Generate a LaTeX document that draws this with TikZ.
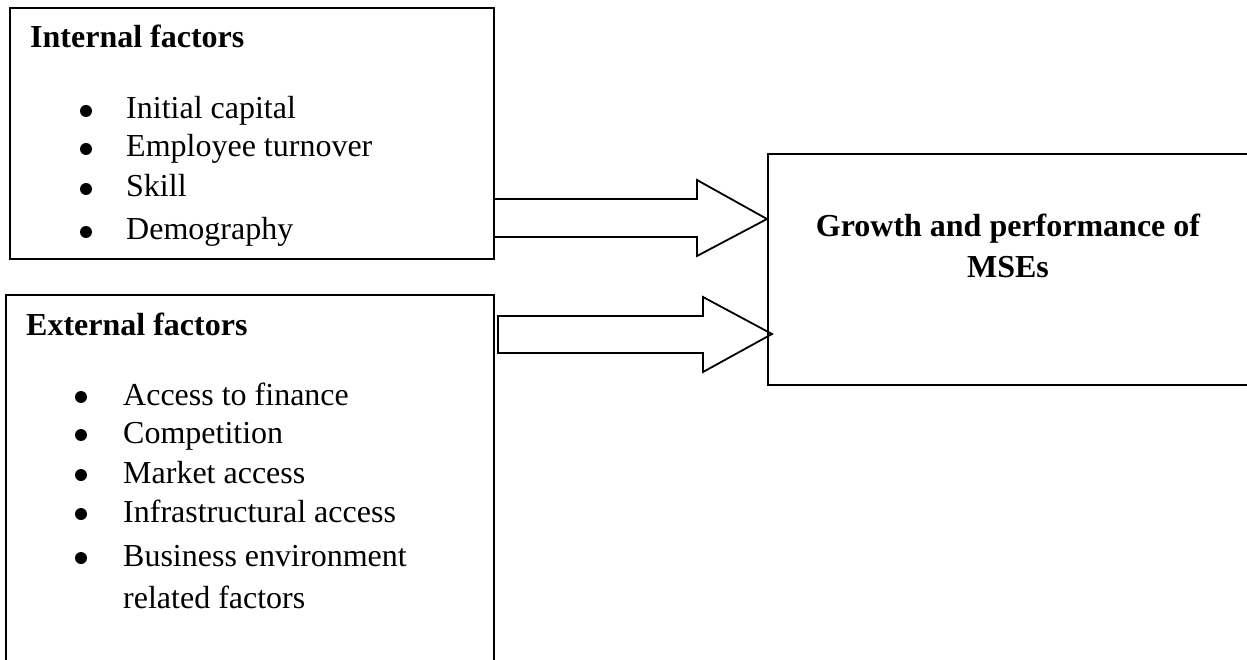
\documentclass[tikz,border=0pt]{standalone}
\usepackage{fontspec}
\setmainfont{Liberation Serif}
\begin{document}
\begin{tikzpicture}[x=1pt,y=-1pt,
  boxstyle/.style={draw=black,line width=1.8pt,inner sep=0pt,anchor=north west},
  txt/.style={inner sep=0pt,anchor=base west,font=\fontsize{32}{38}\selectfont},
  head/.style={inner sep=0pt,anchor=base west,font=\fontsize{32}{38}\selectfont\bfseries},
  ctext/.style={inner sep=0pt,anchor=base,font=\fontsize{32}{38}\selectfont\bfseries},
  bul/.style={circle,fill=black,inner sep=0pt,minimum size=12pt},
  blockarrow/.style={draw=black,line width=1.8pt,line join=miter}]
\useasboundingbox (0,0) rectangle (1247,660);
\clip (0,0) rectangle (1247,660);
% boxes
\node[boxstyle,minimum width=484pt,minimum height=251pt] (int) at (9,7) {};
\node[boxstyle,minimum width=488pt,minimum height=420pt] (ext) at (5,294) {};
\node[boxstyle,minimum width=540pt,minimum height=231pt] (gro) at (767,153) {};
% headings
\node[head] (inth) at (30,48) {Internal factors};
\node[head] (exth) at (26,335) {External factors};
% internal items
\foreach \y/\t [count=\i] in {119/Initial capital,157/Employee turnover,197/Skill,240/Demography}{
  \node[bul] (ib\i) at (86,\y-8) {};
  \node[txt] (it\i) at (126,\y) {\t};
}
% external items
\foreach \y/\t [count=\i] in {405/Access to finance,443/Competition,483/Market access,522/Infrastructural access,566/Business environment}{
  \node[bul] (eb\i) at (81,\y-8) {};
  \node[txt] (et\i) at (123,\y) {\t};
}
\node[txt] (et6) at (123,608) {related factors};
% right text
\node[ctext] (g1) at (1008,237) {Growth and performance of};
\node[ctext] (g2) at (1008,277) {MSEs};
% block arrows
\coordinate (a1s) at (int.east |- 0,218);
\coordinate (a1e) at (gro.west |- 0,219);
\draw[blockarrow] ([yshift=19pt]a1s) -- (697,199) -- (697,180) -- (a1e) -- (697,256) -- (697,237) -- ([yshift=-19pt]a1s);
\coordinate (a2s) at (498,334.5);
\coordinate (a2e) at (772,334);
\draw[blockarrow] ([yshift=18.5pt]a2s) -- (703,316) -- (703,297) -- (a2e) -- (703,372) -- (703,353) -- ([yshift=-18.5pt]a2s) -- cycle;
\end{tikzpicture}
\end{document}
